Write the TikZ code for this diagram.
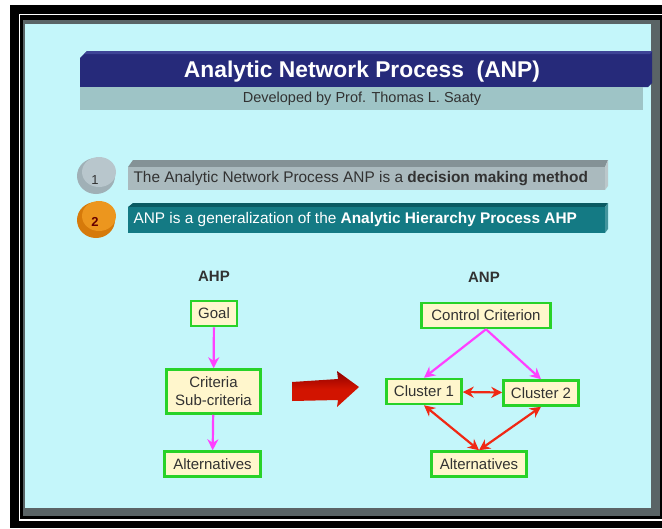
\documentclass[tikz,border=0pt]{standalone}
\usepackage{fontspec}
\setmainfont{Liberation Sans}
\usetikzlibrary{arrows.meta,shapes,shadows}
\definecolor{panel}{RGB}{196,246,250}
\definecolor{panelrim}{RGB}{90,100,102}
\definecolor{navy}{RGB}{38,42,122}
\definecolor{navytop}{RGB}{62,68,150}
\definecolor{subbar}{RGB}{158,196,198}
\definecolor{graybar}{RGB}{170,186,190}
\definecolor{graytop}{RGB}{132,146,150}
\definecolor{tealbar}{RGB}{20,122,132}
\definecolor{tealtop}{RGB}{10,90,98}
\definecolor{coin}{RGB}{160,176,182}
\definecolor{cointop}{RGB}{184,198,204}
\definecolor{orangecoin}{RGB}{214,122,10}
\definecolor{orangetop}{RGB}{236,150,30}
\definecolor{boxfill}{RGB}{255,246,204}
\definecolor{boxgreen}{RGB}{40,210,40}
\definecolor{inkgray}{RGB}{50,50,50}
\definecolor{pinkline}{RGB}{255,64,255}
\definecolor{redline}{RGB}{240,40,20}
\definecolor{bigred}{RGB}{210,20,0}
\newcommand{\slidefont}{\fontsize{15}{18}\selectfont}
\newcommand{\itemfont}{\fontsize{15.4}{18}\selectfont}
\tikzstyle{every picture}+=[>={Stealth[length=11pt,width=11pt]}]
\tikzstyle{every picture}+=[x=1pt,y=-1pt]
\tikzstyle{box}=[draw=boxgreen,fill=boxfill,line width=2.5pt,text=inkgray,font=\slidefont,align=center,inner xsep=7pt,minimum height=25pt]
\tikzstyle{pinkarrow}=[->,draw=pinkline,fill=pinkline,line width=2.2pt]
\tikzstyle{redarrow}=[<->,draw=redline,fill=redline,line width=2.2pt]
\tikzstyle{heading}=[font=\slidefont\bfseries,text=inkgray]
\tikzstyle{itemtext}=[anchor=west,font=\itemfont]

\begin{document}
\begin{tikzpicture}
\useasboundingbox (0,0) rectangle (662,528);
\clip (0,0) rectangle (662,528);
\fill[white] (0,0) rectangle (662,528);

% frame and slide panel
\fill[black] (10,5) rectangle (680,528);
\draw[white,line width=1.5pt] (19.5,14.5) rectangle (680,520);
\fill[panelrim] (23,20) rectangle (660,516);
\fill[panel] (25,24) rectangle (651,508);

% title banner
\fill[navy] (80,58) -- (87,51) -- (652,51) -- (652,83) -- (648,87) -- (80,87) -- cycle;
\fill[navytop] (80,58) -- (87,51) -- (652,51) -- (650,54) -- (84,54) -- cycle;
\fill[subbar] (80,87) rectangle (643,110);
\node[text=white,font=\fontsize{22.8}{26}\selectfont\bfseries] (title) at (362,72) {Analytic Network Process\ \ (ANP)};
\node[text=inkgray,font=\fontsize{14.5}{17}\selectfont] (subtitle) at (362,99) {Developed by Prof. Thomas L. Saaty};

% item 1
\fill[coin] (96,176) ellipse [x radius=19pt, y radius=18pt];
\fill[cointop] (99,172) ellipse [x radius=17pt, y radius=15pt];
\node[text=inkgray,font=\fontsize{13}{15}\selectfont] (num1) at (95,180) {1};
\fill[graytop] (128,167) -- (133,160) -- (608,160) -- (605,167) -- cycle;
\fill[graybar!80!white] (605,167) -- (608,160) -- (608,186) -- (605,190) -- cycle;
\fill[graybar] (128,167) rectangle (605,190);
\node[itemtext,text=inkgray] (item1) at (130,178.5) {The Analytic Network Process ANP is a \textbf{decision making method}};

% item 2
\fill[orangecoin] (96,220) ellipse [x radius=19pt, y radius=18pt];
\fill[orangetop] (99,216) ellipse [x radius=17pt, y radius=15pt];
\node[text=red!40!black,font=\fontsize{13}{15}\selectfont\bfseries] (num2) at (95,222) {2};
\fill[tealtop] (128,207) -- (133,203) -- (608,203) -- (605,207) -- cycle;
\fill[tealbar!80!white] (605,207) -- (608,203) -- (608,229) -- (605,233) -- cycle;
\fill[tealbar] (128,207) rectangle (605,233);
\node[itemtext,text=white] (item2) at (130,220) {ANP is a generalization of the \textbf{Analytic Hierarchy Process AHP}};

% AHP side
\node[heading] (ahp) at (214,276) {AHP};
\node[box] (goal) at (214,313.5) {Goal};
\node[box,minimum width=94pt,minimum height=44pt] (crit) at (213.5,391.5) {Criteria\\Sub-criteria};
\node[box,minimum width=96pt] (alt1) at (212.5,464) {Alternatives};
\draw[pinkarrow] (goal) -- (crit);
\draw[pinkarrow] (crit) -- (alt1);

% big arrow
\shade[top color=red!55!black,bottom color=bigred,middle color=bigred] (292,382) -- (338,379) -- (337,371) -- (359,387) -- (337,407) -- (338,400) -- (292,401) -- cycle;

% ANP side
\node[heading] (anp) at (484,277) {ANP};
\node[box,minimum width=129pt] (ctrl) at (486,315.5) {Control Criterion};
\node[box,minimum width=75pt] (cl1) at (424,391.5) {Cluster 1};
\node[box,minimum width=75pt] (cl2) at (541,393) {Cluster 2};
\node[box,minimum width=95pt] (alt2) at (479,464) {Alternatives};
\draw[pinkarrow] (ctrl.south) -- (cl1.north);
\draw[pinkarrow] (ctrl.south) -- (cl2.north);
\draw[redarrow] (cl1) -- (cl2);
\draw[redarrow] (cl1.south) -- (alt2.north);
\draw[redarrow] (cl2.south) -- (alt2.north);
\end{tikzpicture}
\end{document}
